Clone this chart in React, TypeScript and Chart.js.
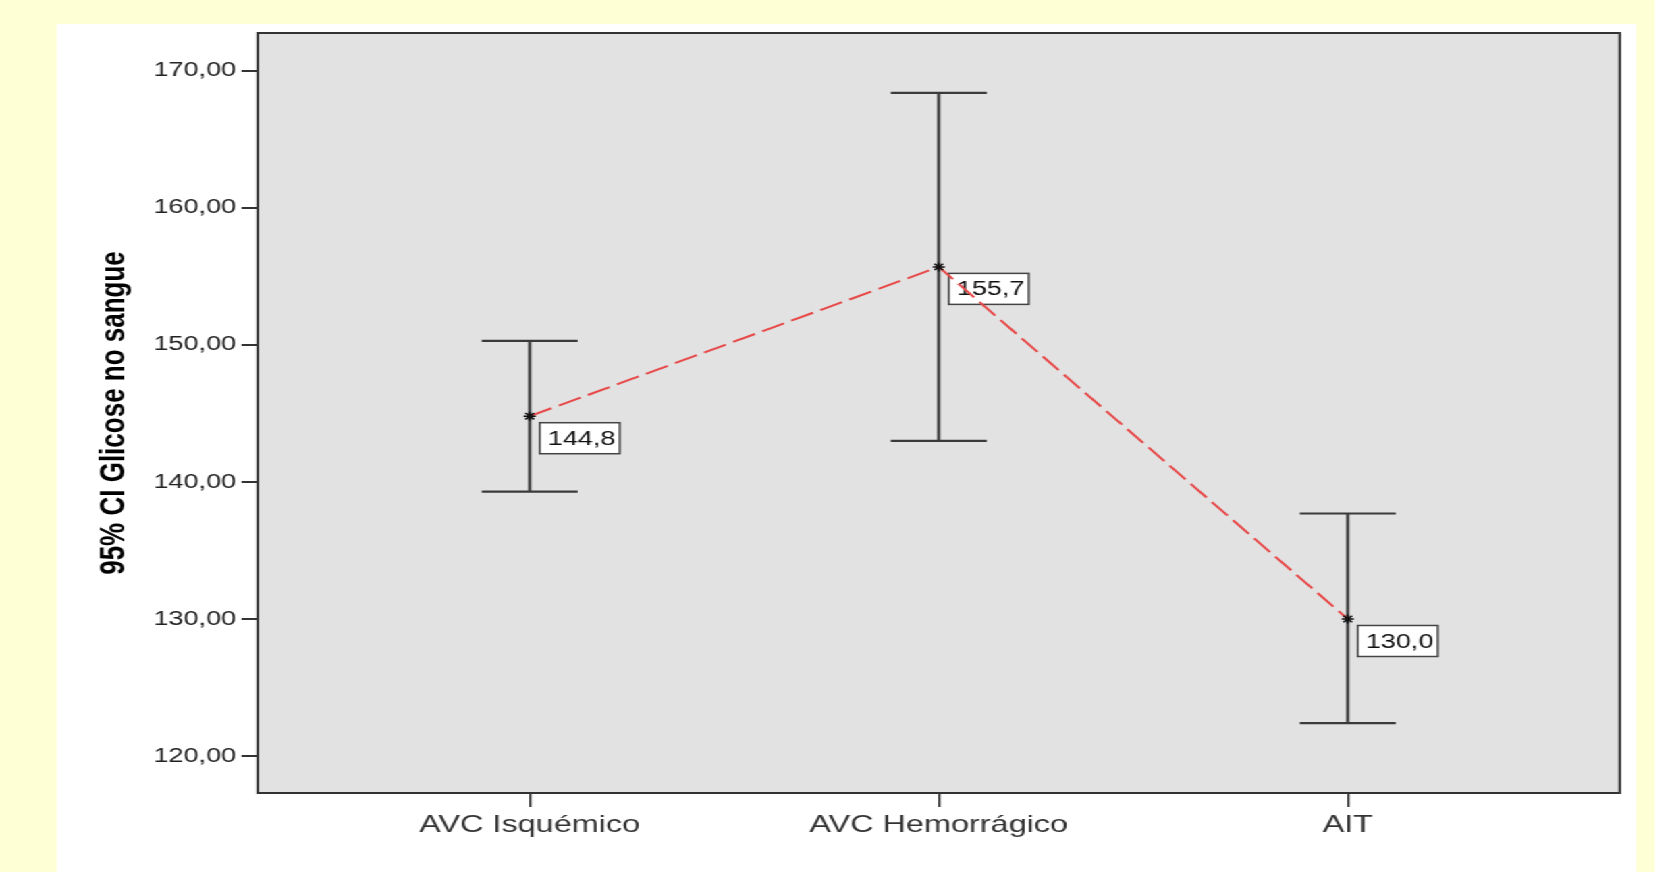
import React, { useEffect, useRef } from "react";
import { Chart, registerables } from "chart.js";

Chart.register(...registerables);

// ---- data ----
const categories = ["AVC Isquémico", "AVC Hemorrágico", "AIT"];
const means = [144.8, 155.7, 130.0];
const ciLower = [139.3, 143.0, 122.4];
const ciUpper = [150.3, 168.4, 137.7];
const yTicks = [120, 130, 140, 150, 160, 170];
const yTitle = "95% CI Glicose no sangue";

// ---- layout / style ----
const STRETCH = 1.35; // the reference is horizontally stretched
const PAGE_W = 1654.9 / STRETCH;
const PAGE_H = 872;
const PANEL_LEFT = 41.5;
const PANEL_TOP = 24;
const PANEL_W = 1170;
const PANEL_H = 848;
const FONT = "'Liberation Sans', Arial, Helvetica, sans-serif";

const fmt = (v: number, d: number) => v.toFixed(d).replace(".", ",");

const decorPlugin = {
  id: "decor",
  beforeDraw(chart: any) {
    const { ctx, chartArea: a } = chart;
    ctx.save();
    ctx.fillStyle = "#e2e2e2";
    ctx.fillRect(a.left, a.top, a.right - a.left, a.bottom - a.top);
    ctx.restore();
  },
  beforeDatasetsDraw(chart: any) {
    const { ctx } = chart;
    const xs = chart.scales.x;
    const ys = chart.scales.y;
    const capHalf = 48 / STRETCH;
    ctx.save();
    // value label boxes
    categories.forEach((_, i) => {
      const x = xs.getPixelForValue(i);
      const y = ys.getPixelForValue(means[i]);
      const bx = x + 10 / STRETCH;
      const by = y + 6.5;
      const bw = 80 / STRETCH;
      const bh = 31;
      ctx.fillStyle = "#ffffff";
      ctx.fillRect(bx, by, bw, bh);
      ctx.strokeStyle = "#444";
      ctx.lineWidth = 1.5;
      ctx.strokeRect(bx, by, bw, bh);
      ctx.fillStyle = "#111";
      ctx.font = `20px ${FONT}`;
      ctx.textBaseline = "middle";
      ctx.textAlign = "left";
      ctx.fillText(fmt(means[i], 1), bx + 6, by + bh / 2 + 1);
    });
    // error bars
    categories.forEach((_, i) => {
      const x = xs.getPixelForValue(i);
      const yl = ys.getPixelForValue(ciLower[i]);
      const yu = ys.getPixelForValue(ciUpper[i]);
      ctx.strokeStyle = "#3a3a3a";
      ctx.lineWidth = 2.2;
      ctx.beginPath();
      ctx.moveTo(x, yu);
      ctx.lineTo(x, yl);
      ctx.moveTo(x - capHalf, yu);
      ctx.lineTo(x + capHalf, yu);
      ctx.moveTo(x - capHalf, yl);
      ctx.lineTo(x + capHalf, yl);
      ctx.stroke();
    });
    ctx.restore();
  },
  afterDraw(chart: any) {
    const { ctx, chartArea: a } = chart;
    ctx.save();
    ctx.strokeStyle = "#333";
    ctx.lineWidth = 2;
    ctx.strokeRect(a.left, a.top, a.right - a.left, a.bottom - a.top);
    ctx.restore();
  },
};

export default function App() {
  const ref = useRef<HTMLCanvasElement>(null);

  useEffect(() => {
    document.body.style.overflow = "hidden";
    if (!ref.current) return;
    const chart = new Chart(ref.current, {
      type: "line",
      data: {
        datasets: [
          {
            data: means.map((m, i) => ({ x: i, y: m })),
            borderColor: "#e84a4a",
            borderWidth: 2,
            borderDash: [18, 6],
            fill: false,
            tension: 0,
            pointStyle: "star",
            pointRadius: 4.5,
            pointBorderColor: "#111",
            pointBackgroundColor: "#111",
            pointBorderWidth: 1.5,
          },
        ],
      },
      options: {
        animation: false,
        responsive: true,
        maintainAspectRatio: false,
        devicePixelRatio: 1,
        layout: { padding: { left: 0, top: 9, right: 12.2, bottom: 0 } },
        plugins: {
          legend: { display: false },
          tooltip: { enabled: false },
        },
        scales: {
          x: {
            type: "linear",
            min: -0.665,
            max: 2.665,
            afterBuildTicks: (s: any) => {
              s.ticks = categories.map((_, i) => ({ value: i }));
            },
            afterFit: (s: any) => {
              s.height = 79;
              s.paddingLeft = 0;
              s.paddingRight = 0;
              s.paddingTop = 0;
              s.paddingBottom = 0;
            },
            ticks: {
              callback: (v: any) => categories[v as number] ?? "",
              font: { family: FONT, size: 24 },
              color: "#333",
              padding: 4,
              maxRotation: 0,
              autoSkip: false,
            },
            grid: {
              display: true,
              drawOnChartArea: false,
              drawTicks: true,
              tickLength: 14,
              color: "#333",
              lineWidth: 1.6,
            },
            border: { display: false },
          },
          y: {
            type: "linear",
            min: 117.3,
            max: 172.77,
            afterBuildTicks: (s: any) => {
              s.ticks = yTicks.map((v) => ({ value: v }));
            },
            afterFit: (s: any) => {
              s.width = 148.9;
              s.paddingTop = 0;
              s.paddingBottom = 0;
              s.paddingLeft = 0;
              s.paddingRight = 0;
            },
            ticks: {
              callback: (v: any) => fmt(v as number, 2),
              font: { family: FONT, size: 20 },
              color: "#222",
              padding: 4,
            },
            grid: {
              display: true,
              drawOnChartArea: false,
              drawTicks: true,
              tickLength: 12,
              color: "#333",
              lineWidth: 2,
            },
            border: { display: false },
            title: {
              display: true,
              text: yTitle,
              font: { family: FONT, size: 26, weight: "bold" },
              color: "#000",
              padding: { top: 27, bottom: 0 },
            },
          },
        },
      },
      plugins: [decorPlugin],
    } as any);
    return () => chart.destroy();
  }, []);

  return (
    <div
      style={{
        position: "absolute",
        left: 0,
        top: 0,
        width: PAGE_W,
        height: PAGE_H,
        background: "#ffffd5",
        transform: `scaleX(${STRETCH})`,
        transformOrigin: "0 0",
        overflow: "hidden",
      }}
    >
      <div
        style={{
          position: "absolute",
          left: PANEL_LEFT,
          top: PANEL_TOP,
          width: PANEL_W,
          height: PANEL_H,
          background: "#ffffff",
        }}
      >
        <canvas ref={ref} />
      </div>
    </div>
  );
}
